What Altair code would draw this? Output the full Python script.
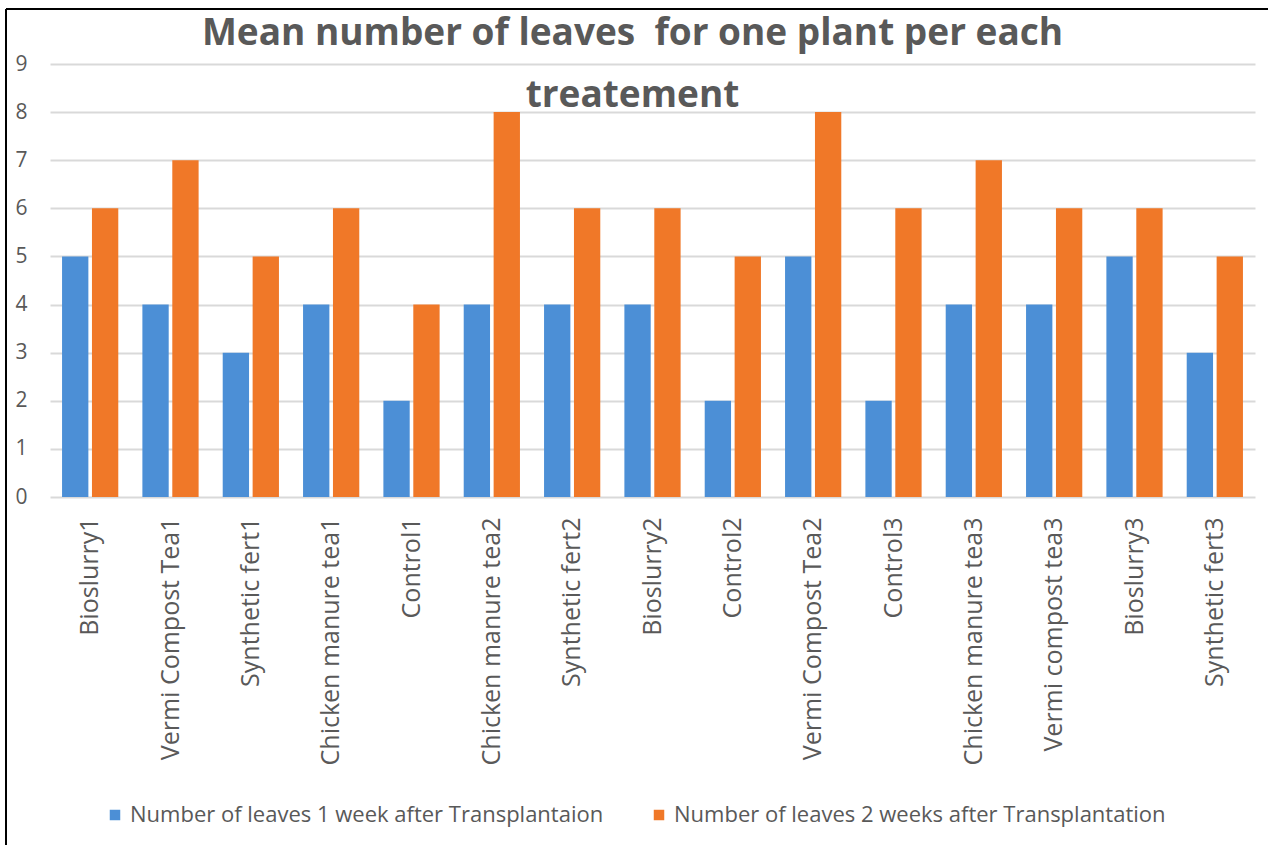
import altair as alt
import pandas as pd

categories = ["Bioslurry1", "Vermi Compost Tea1", "Synthetic fert1", "Chicken manure tea1",
              "Control1", "Chicken manure tea2", "Synthetic fert2", "Bioslurry2", "Control2",
              "Vermi Compost Tea2", "Control3", "Chicken manure tea3", "Vermi compost tea3",
              "Bioslurry3", "Synthetic fert3"]
week1 = [5, 4, 3, 4, 2, 4, 4, 4, 2, 5, 2, 4, 4, 5, 3]
week2 = [6, 7, 5, 6, 4, 8, 6, 6, 5, 8, 6, 7, 6, 6, 5]
series = ["Number of leaves 1 week after Transplantaion",
          "Number of leaves 2 weeks after Transplantation"]
colors = ["#4C8FD6", "#F07828"]

rows = []
for c, a, b in zip(categories, week1, week2):
    rows.append({"cat": c, "series": series[0], "value": a})
    rows.append({"cat": c, "series": series[1], "value": b})
df = pd.DataFrame(rows)

W, H = 1205, 433
FONT = "Open Sans"

bars = alt.Chart(df).mark_bar().encode(
    x=alt.X("cat:N", sort=categories, title=None,
            scale=alt.Scale(paddingInner=0.3, paddingOuter=0.15),
            axis=alt.Axis(labelAngle=-90, labelAlign="right", labelBaseline="middle",
                          labelPadding=20, ticks=False, domain=False, labelFontSize=25,
                          labelColor="#595959", labelFont=FONT, labelLimit=400)),
    xOffset=alt.XOffset("series:N", sort=series, scale=alt.Scale(paddingInner=0.12)),
    y=alt.Y("value:Q", title=None, scale=alt.Scale(domain=[0, 9]),
            axis=alt.Axis(values=list(range(10)), ticks=False, domain=False,
                          labelFontSize=21, labelColor="#595959", labelFont=FONT,
                          labelPadding=23, gridColor="#D9D9D9", gridWidth=2)),
    color=alt.Color("series:N", sort=series,
                    scale=alt.Scale(domain=series, range=colors),
                    legend=alt.Legend(title=None, orient="none", legendX=54, legendY=740,
                                      direction="horizontal", columns=2, columnPadding=44,
                                      symbolType="square", symbolSize=110,
                                      symbolStrokeWidth=0, labelFontSize=22,
                                      labelColor="#595959", labelFont=FONT,
                                      labelLimit=700, symbolOffset=0)),
)

frame_df = pd.DataFrame({"k": [0]})
top_line = alt.Chart(frame_df).mark_rule(color="black", strokeWidth=2).encode(
    x=alt.value(-44), x2=alt.value(W + 20), y=alt.value(-55))
left_line = alt.Chart(frame_df).mark_rule(color="black", strokeWidth=2).encode(
    x=alt.value(-44), y=alt.value(-55), y2=alt.value(H + 360))

chart = alt.layer(bars, top_line, left_line).properties(
    width=W, height=H,
    autosize=alt.AutoSizeParams(type="none"),
    padding={"left": 50, "top": 64, "right": 13, "bottom": 348},
    title=alt.TitleParams(
        ["Mean number of leaves\u00a0 for one plant per each", "treatement"],
        anchor="middle", fontSize=37, fontWeight="bold", color="#595959",
        font=FONT, lineHeight=62, offset=-107, dx=-20),
).configure_view(stroke=None)

chart.save("out.html", embed_options={"renderer": "svg", "actions": False})
